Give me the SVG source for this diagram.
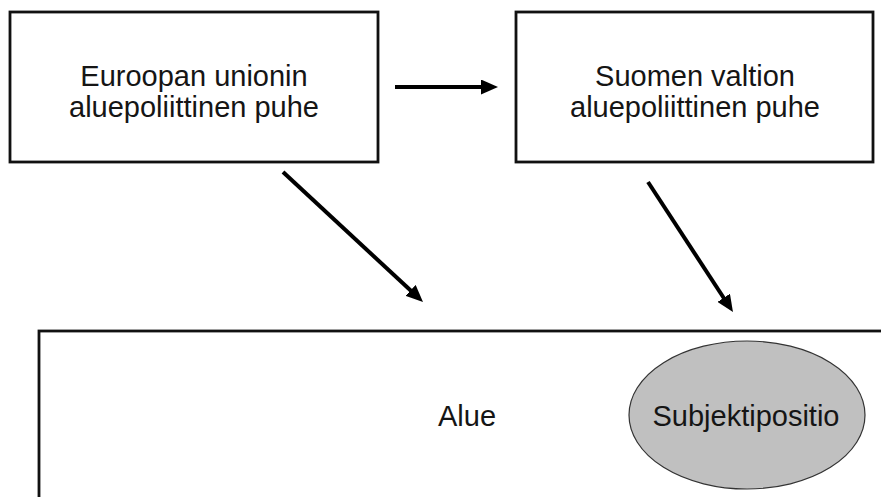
<svg xmlns="http://www.w3.org/2000/svg" width="881" height="497" viewBox="0 0 881 497">
  <style>
    .box { fill: #ffffff; stroke: #111111; stroke-width: 2.8; }
    .label { font-family: "Liberation Sans", Arial, sans-serif; font-size: 29px; fill: #151515; text-anchor: middle; }
    .conn { stroke: #000000; stroke-width: 4; fill: none; marker-end: url(#head); }
    .oval { fill: #c0c0c0; stroke: #333333; stroke-width: 1.2; }
  </style>
  <defs>
    <marker id="head" markerUnits="userSpaceOnUse" markerWidth="17" markerHeight="15" refX="5" refY="7.5" orient="auto">
      <path d="M0,0 L17,7.5 L0,15 Z" fill="#000000"/>
    </marker>
  </defs>
  <rect width="881" height="497" fill="#ffffff"/>

  <g id="eu">
    <rect class="box" x="10" y="12" width="368" height="150"/>
    <text class="label" x="194" y="86">Euroopan unionin</text>
    <text class="label" x="194" y="117">aluepoliittinen puhe</text>
  </g>

  <g id="valtio">
    <rect class="box" x="516" y="12" width="357" height="150"/>
    <text class="label" x="695" y="86">Suomen valtion</text>
    <text class="label" x="695" y="117">aluepoliittinen puhe</text>
  </g>

  <g id="alue">
    <rect class="box" x="39" y="331" width="900" height="200"/>
    <text class="label" x="467" y="426">Alue</text>
  </g>

  <g id="subjektipositio">
    <ellipse class="oval" cx="747" cy="415" rx="118" ry="74"/>
    <text class="label" x="746" y="426">Subjektipositio</text>
  </g>

  <g id="connectors">
    <line class="conn" x1="395" y1="87" x2="486" y2="87"/>
    <line class="conn" x1="283" y1="172" x2="414.2" y2="293.8"/>
    <line class="conn" x1="648" y1="182" x2="726.4" y2="302"/>
  </g>
</svg>
